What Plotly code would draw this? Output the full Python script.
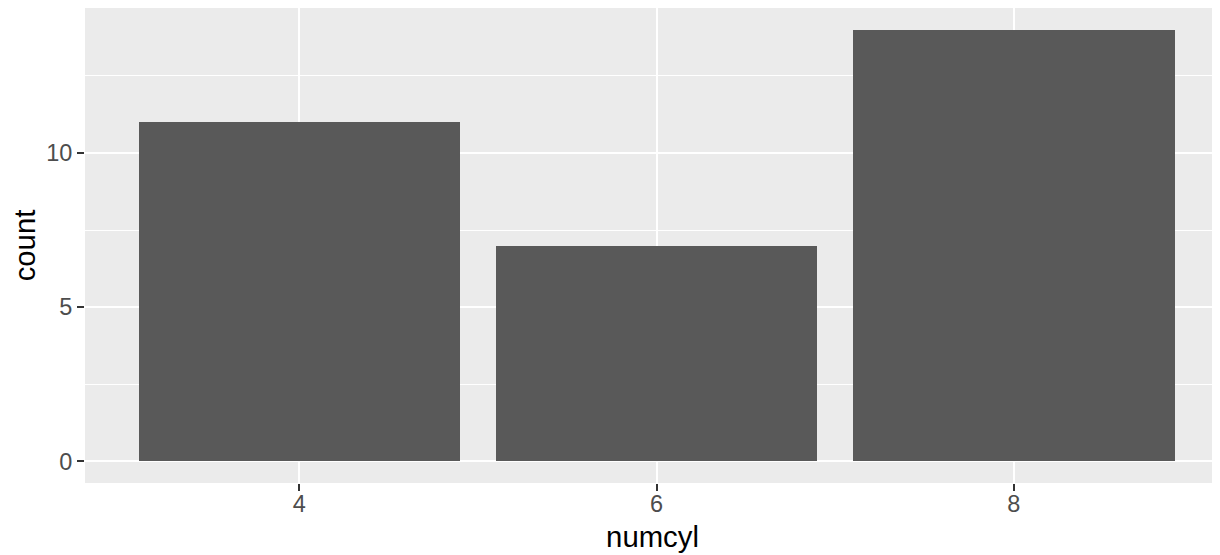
import plotly.graph_objects as go

categories = ["4", "6", "8"]
counts = [11, 7, 14]
y_ticks = [0, 5, 10]
y_minor = [2.5, 7.5, 12.5]

FONT = "Liberation Sans, Arial, sans-serif"

fig = go.Figure()
fig.add_trace(go.Bar(
    x=categories, y=counts, width=0.9,
    marker=dict(color="#595959", line=dict(width=0)),
    hoverinfo="x+y",
))

# the page body adds an 8px offset on the top/left, so the figure is 8px smaller
fig.update_layout(
    width=1212, height=547,
    margin=dict(l=77, r=0, t=0, b=72, pad=0),
    paper_bgcolor="white",
    plot_bgcolor="#EBEBEB",
    showlegend=False,
    font=dict(family=FONT),
    bargap=0,
)

fig.update_xaxes(
    type="category",
    range=[-0.6, 2.577],
    showgrid=True, gridcolor="white", gridwidth=2.1,
    zeroline=False, showline=False,
    ticks="outside", ticklen=7, tickwidth=2.1, tickcolor="#333333",
    tickfont=dict(size=23.5, color="#4D4D4D", family=FONT),
    ticklabelstandoff=-7,
    title=dict(text="numcyl", font=dict(size=29.3, color="black", family=FONT), standoff=10),
    automargin=False,
)

fig.update_yaxes(
    range=[-0.7, 14.7],
    tickmode="array", tickvals=y_ticks, ticktext=[str(v) for v in y_ticks],
    showgrid=True, gridcolor="white", gridwidth=2.1,
    minor=dict(tickmode="array", tickvals=y_minor, showgrid=True, gridcolor="white", gridwidth=1.05, ticks=""),
    zeroline=False, showline=False,
    ticks="outside", ticklen=7, tickwidth=2.1, tickcolor="#333333",
    tickfont=dict(size=23.5, color="#4D4D4D", family=FONT),
    title=dict(text="count", font=dict(size=29.3, color="black", family=FONT), standoff=10),
    automargin=False,
)

fig.write_html("out.html")
